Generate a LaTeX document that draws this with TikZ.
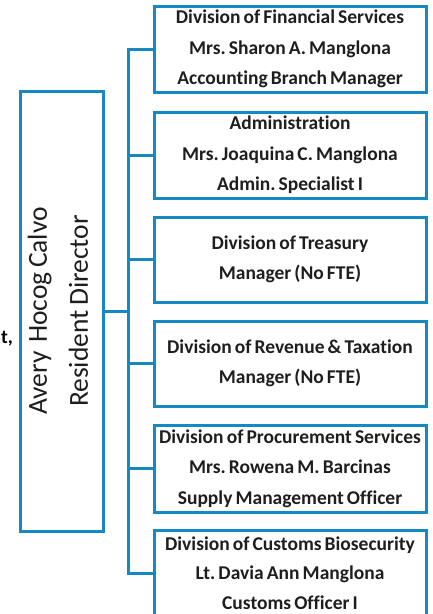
\documentclass[tikz,border=0pt]{standalone}
\usepackage{fontspec}
\setmainfont{Carlito}[Ligatures=NoCommon, WordSpace=0.7]
\usepackage{tikz}

\definecolor{orgblue}{RGB}{22,136,196}
\definecolor{inktext}{RGB}{30,30,30}

\frenchspacing

\begin{document}
\begin{tikzpicture}[x=1pt, y=-1pt,
	divbox/.style={draw=orgblue, line width=3pt, minimum width=272pt, minimum height=86pt,
		inner sep=0pt, align=center, text=inktext, font=\bfseries\fontsize{19.5}{30.5}\selectfont},
	link/.style={draw=orgblue, line width=3pt}]
\useasboundingbox (0,0) rectangle (432,614);

% resident director
\node[draw=orgblue, line width=3pt, minimum width=83pt, minimum height=440pt, inner sep=0pt] (dir) at (61.5,311.5) {};
\node[rotate=90, align=center, inner sep=0pt, text=inktext, font=\fontsize{27.5}{41}\selectfont] (dirname) at (58,311)
	{Avery\ \ Hocog Calvo\\Resident Director};

% divisions
\node[divbox] (div1) at (290,49) {Division of Financial Services\\Mrs. Sharon A. Manglona\\Accounting Branch Manager};
\node[divbox] (div2) at (290,155) {Administration\\Mrs. Joaquina C. Manglona\\Admin. Specialist I};
\node[divbox, minimum height=85pt] (div3) at (290,259.5) {Division of Treasury\\Manager (No FTE)};
\node[divbox, minimum height=85pt] (div4) at (290,363.5) {Division of Revenue \& Taxation\\Manager (No FTE)};
\node[divbox, minimum height=87pt] (div5) at (290,468.5) {Division of Procurement Services\\Mrs. Rowena M. Barcinas\\Supply Management Officer};
\node[divbox, font=\bfseries\fontsize{19.5}{29.5}\selectfont] (div6) at (290,573) {Division of Customs Biosecurity\\Lt. Davia Ann Manglona\\Customs Officer I};

% cut-off text at the left edge
\node[anchor=east, inner sep=0pt, text=black, font=\bfseries\fontsize{19.5}{22}\selectfont] (edge) at (13,339) {t,};

% connectors
\coordinate (bus) at (128.5,311.5);
\draw[link] (dir.east) -- (bus);
\draw[link] (div1.west) -- (div1.west -| bus) -- (div6.west -| bus) -- (div6.west);
\foreach \n in {2,...,5} {
	\draw[link] (div\n.west -| bus) -- (div\n.west);
}

\end{tikzpicture}
\end{document}
